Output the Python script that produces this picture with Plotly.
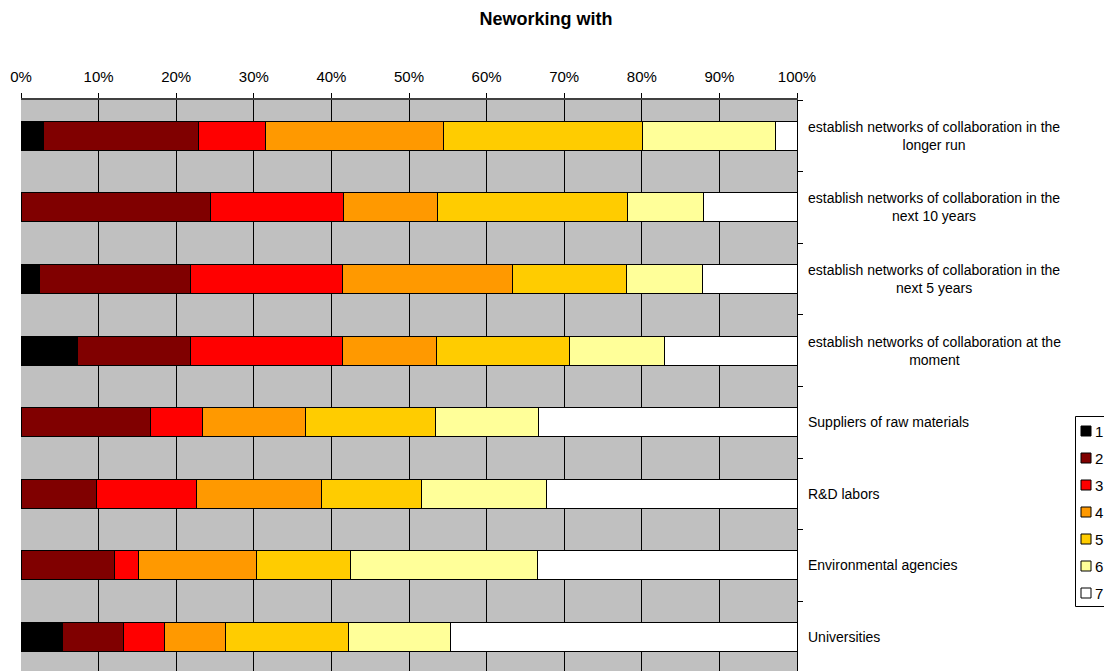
import textwrap
import plotly.graph_objects as go

# ---- data ----
categories = [
    "establish networks of collaboration in the longer run",
    "establish networks of collaboration in the next 10 years",
    "establish networks of collaboration in the next 5 years",
    "establish networks of collaboration at the moment",
    "Suppliers of raw materials",
    "R&D labors",
    "Environmental agencies",
    "Universities",
]
series_names = ["1", "2", "3", "4", "5", "6", "7"]
s1 = [2.9, 0.0, 2.4, 7.3, 0.0, 0.0, 0.0, 5.3]
s2 = [20.0, 24.4, 19.5, 14.6, 16.7, 9.7, 12.1, 7.9]
s3 = [8.6, 17.1, 19.5, 19.5, 6.7, 12.9, 3.0, 5.3]
s4 = [22.9, 12.2, 22.0, 12.2, 13.3, 16.1, 15.2, 7.9]
s5 = [25.7, 24.4, 14.6, 17.1, 16.7, 12.9, 12.1, 15.8]
s6 = [17.1, 9.8, 9.8, 12.2, 13.3, 16.1, 24.2, 13.2]
s7 = [2.8, 12.2, 12.2, 17.1, 33.3, 32.3, 33.4, 44.6]
series_values = [s1, s2, s3, s4, s5, s6, s7]
colors = ["#000000", "#800000", "#FF0000", "#FF9900", "#FFCC00", "#FFFF99", "#FFFFFF"]
x_ticks = [0, 10, 20, 30, 40, 50, 60, 70, 80, 90, 100]
x_tick_labels = [f"{t}%" for t in x_ticks]
title_text = "Neworking with"

FONT = "Liberation Sans, Arial, Helvetica, sans-serif"
W, H = 1104, 671
L, R, T, B = 21, 797, 100, 0

fig = go.Figure()
for name, vals, col in zip(series_names, series_values, colors):
    fig.add_trace(go.Bar(
        y=categories, x=vals, name=name, orientation="h",
        marker=dict(color=col, line=dict(color="#000000", width=1)),
        showlegend=False,
    ))

# category labels at the right of the plot
for cat in categories:
    fig.add_annotation(
        x=(806 - L) / (R - L), xref="paper", xanchor="left",
        y=cat, yref="y", yanchor="middle",
        text="<br>".join(textwrap.wrap(cat, 42)),
        align="center", showarrow=False,
        font=dict(family=FONT, size=14, color="#000000"),
    )

# manual legend (positions in pixels converted to paper coords)
def px_x(p):
    return (p - L) / (R - L)

def px_y(p):
    return (H - B - p) / (H - B - T)

fig.add_shape(type="rect", xref="paper", yref="paper",
              x0=px_x(1075.5), x1=px_x(1112), y0=px_y(606.5), y1=px_y(416.5),
              line=dict(color="#000000", width=1), fillcolor="#FFFFFF")
for i, (name, col) in enumerate(zip(series_names, colors)):
    cy = 431 + 27 * i
    fig.add_shape(type="rect", xref="paper", yref="paper",
                  x0=px_x(1081), x1=px_x(1091), y0=px_y(cy + 5), y1=px_y(cy - 5),
                  line=dict(color="#000000", width=1), fillcolor=col)
    fig.add_annotation(x=px_x(1093), xref="paper", xanchor="left",
                       y=px_y(cy), yref="paper", yanchor="middle",
                       text=name, showarrow=False,
                       font=dict(family=FONT, size=15, color="#000000"))

band = 71.6
plot_h = H - T - B
fig.update_layout(
    width=W, height=H,
    margin=dict(l=L, r=W - R, t=T, b=B, pad=0),
    paper_bgcolor="#FFFFFF", plot_bgcolor="#C0C0C0",
    barmode="stack", bargap=0.595,
    font=dict(family=FONT, size=15, color="#000000"),
    title=dict(text=f"<b>{title_text}</b>", x=546 / W, xref="container", xanchor="center",
               y=1 - 19 / H, yref="container", yanchor="middle",
               font=dict(family=FONT, size=18, color="#000000")),
    xaxis=dict(
        side="top", range=[0, 100], tickvals=x_ticks, ticktext=x_tick_labels,
        showgrid=True, gridcolor="#000000", gridwidth=1, zeroline=False,
        showline=True, linecolor="#404040", linewidth=2,
        ticks="outside", ticklen=5, tickcolor="#000000", tickwidth=1,
        ticklabelstandoff=5, tickfont=dict(size=15),
        fixedrange=True,
    ),
    yaxis=dict(
        type="category", categoryorder="array", categoryarray=categories,
        range=[-0.5 + plot_h / band, -0.5], side="right",
        showticklabels=False, showgrid=False, zeroline=False,
        showline=True, linecolor="#000000", linewidth=1,
        ticks="outside", ticklen=5, tickcolor="#000000", tickson="boundaries",
        fixedrange=True,
    ),
)

fig.write_html("out.html")
